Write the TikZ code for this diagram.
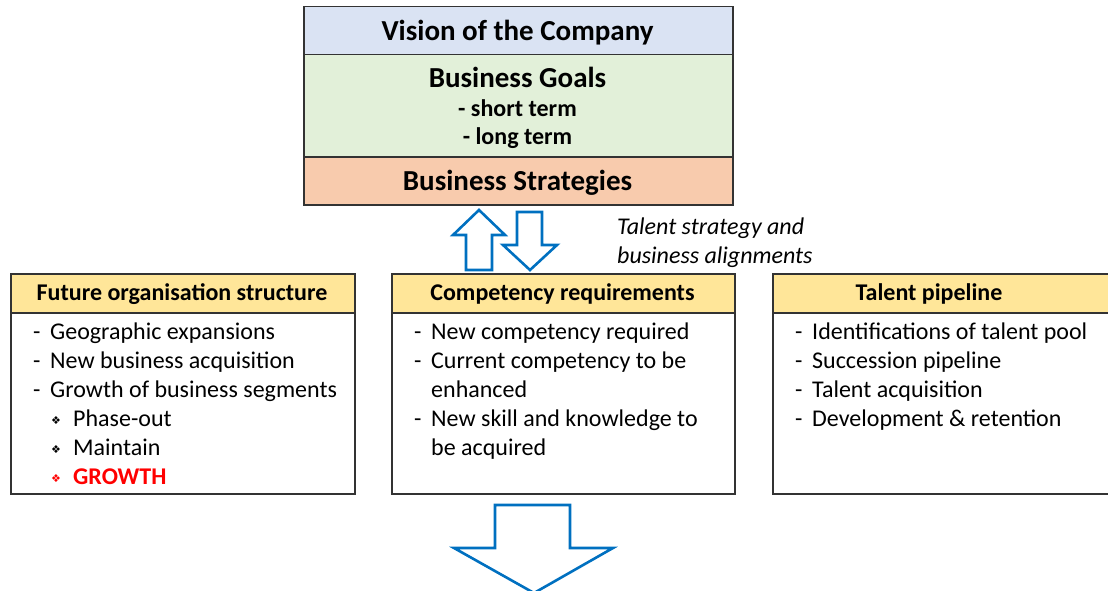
\documentclass[tikz,border=0pt]{standalone}
\usepackage{fontspec}
\setmainfont{Carlito}
\newfontfamily\dejavu{DejaVu Sans}
\definecolor{visblue}{HTML}{DAE3F3}
\definecolor{goalgreen}{HTML}{E2F0D9}
\definecolor{stratorange}{HTML}{F8CBAD}
\definecolor{headyellow}{HTML}{FFE699}
\definecolor{arrowblue}{HTML}{0070C0}
\definecolor{boxline}{HTML}{333333}
\newcommand{\bul}{\makebox[23pt][l]{\hspace{1pt}\raisebox{1.2pt}{\dejavu\fontsize{11}{11}\selectfont ❖}}}
\newcommand{\dsh}{\makebox[17pt][l]{-}}
\begin{document}
\begin{tikzpicture}[x=1pt,y=-1pt,
  panel/.style={draw=boxline, line width=1.5pt, anchor=north west, inner sep=0pt},
  title/.style={font=\fontsize{29}{34}\selectfont\bfseries, anchor=base, inner sep=0pt},
  sub/.style={font=\fontsize{24}{29}\selectfont\bfseries, anchor=base, inner sep=0pt},
  head/.style={font=\fontsize{24}{29}\selectfont\bfseries, anchor=base, inner sep=0pt},
  list/.style={font=\fontsize{24}{29}\selectfont, anchor=base west, inner sep=0pt, align=left},
  blockarrow/.style={draw=arrowblue, line width=2.6pt, fill=white, line join=miter}
]
\path[use as bounding box] (0,0) rectangle (1108,591);
\clip (0,0) rectangle (1108,591);

% top stack
\node[panel, fill=visblue, minimum width=429pt, minimum height=48pt] (vision) at (303,6) {};
\node[panel, fill=goalgreen, minimum width=429pt, minimum height=102pt] (goals) at (303,54) {};
\node[panel, fill=stratorange, minimum width=429pt, minimum height=48pt] (strat) at (303,156) {};
\node[title] (visiont) at (517.5,41) {Vision of the Company};
\node[title] (goalst) at (517.5,88) {Business Goals};
\node[sub] (shortt) at (517.5,117) {- short term};
\node[sub] (longt) at (517.5,145) {- long term};
\node[title] (stratt) at (517.5,190) {Business Strategies};

% two-way block arrows
\draw[blockarrow] (479,210) -- (505,235) -- (492,235) -- (492,270) -- (466,270) -- (466,235) -- (453,235) -- cycle;
\draw[blockarrow] (530,270) -- (557,245) -- (542,245) -- (542,212) -- (517,212) -- (517,245) -- (503,245) -- cycle;
\node[font=\fontsize{24}{29}\selectfont\itshape, anchor=base west, inner sep=0pt] (align) at (617,234)
  {\begin{tabular}[t]{@{}l@{}}Talent strategy and\\business alignments\end{tabular}};

% three boxes
\node[panel, fill=headyellow, minimum width=344pt, minimum height=39pt] (fosh) at (10,273) {};
\node[panel, fill=white, minimum width=344pt, minimum height=181pt] (fosb) at (10,312) {};
\node[panel, fill=headyellow, minimum width=343pt, minimum height=39pt] (comph) at (391,273) {};
\node[panel, fill=white, minimum width=343pt, minimum height=181pt] (compb) at (391,312) {};
\node[panel, fill=headyellow, minimum width=345pt, minimum height=39pt] (talh) at (772,273) {};
\node[panel, fill=white, minimum width=345pt, minimum height=181pt] (talb) at (772,312) {};

\node[head] (fost) at (182,300) {Future organisation structure};
\node[head] (compt) at (562.5,300) {Competency requirements};
\node[head] (talt) at (929,300) {Talent pipeline};

\node[list] (fosl) at (33,339) {\begin{tabular}[t]{@{}l@{}}
\dsh Geographic expansions\\
\dsh New business acquisition\\
\dsh Growth of business segments\\
\hspace{17pt}\bul Phase-out\\
\hspace{17pt}\bul Maintain\\
\hspace{17pt}{\color{red}\bul\bfseries GROWTH}
\end{tabular}};

\node[list] (compl) at (414,339) {\begin{tabular}[t]{@{}l@{}}
\dsh New competency required\\
\dsh Current competency to be\\
\hspace{17pt}enhanced\\
\dsh New skill and knowledge to\\
\hspace{17pt}be acquired
\end{tabular}};

\node[list] (tall) at (795,339) {\begin{tabular}[t]{@{}l@{}}
\dsh Identifications of talent pool\\
\dsh Succession pipeline\\
\dsh Talent acquisition\\
\dsh Development \& retention
\end{tabular}};

% downward block arrow
\draw[blockarrow] (495,505) -- (570,505) -- (570,548) -- (613,548) -- (534,593) -- (454,548) -- (495,548) -- cycle;
\end{tikzpicture}
\end{document}
